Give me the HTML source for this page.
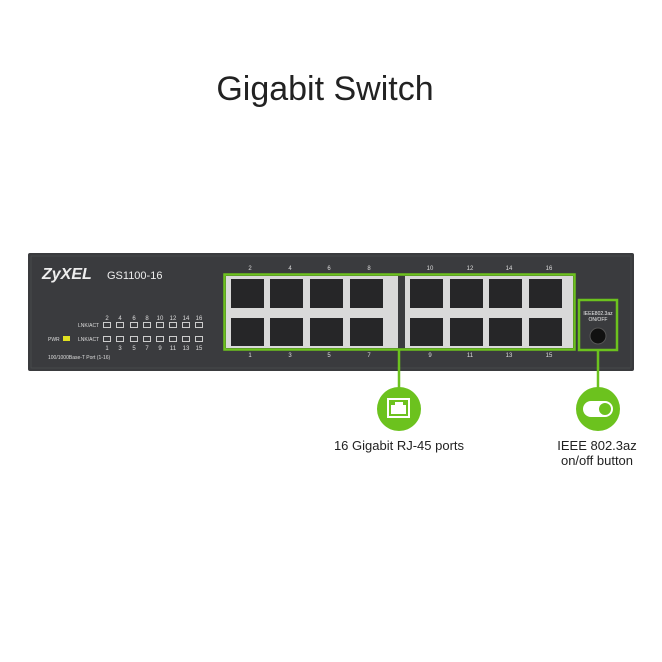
<!DOCTYPE html>
<html><head><meta charset="utf-8"><style>
html,body{margin:0;padding:0;background:#fff}
svg{display:block}
</style></head><body>
<svg width="662" height="662" viewBox="0 0 662 662" xmlns="http://www.w3.org/2000/svg" font-family="Liberation Sans, sans-serif">
<rect width="662" height="662" fill="#fff"/>
<text x="325" y="100" font-size="34" text-anchor="middle" fill="#222">Gigabit Switch</text>
<!-- body -->
<rect x="28" y="253" width="606" height="118" rx="2" fill="#3a3b3e"/>
<rect x="31" y="256" width="600" height="112" fill="none" stroke="#47484b" stroke-width="1"/>
<text x="42" y="279" font-size="16" font-weight="bold" font-style="italic" fill="#eee">ZyXEL</text>
<text x="107" y="279" font-size="11" fill="#eee">GS1100-16</text>
<g font-size="6" fill="#ddd" text-anchor="middle">
<text x="107" y="320">2</text><text x="120" y="320">4</text><text x="134" y="320">6</text><text x="147" y="320">8</text><text x="160" y="320">10</text><text x="173" y="320">12</text><text x="186" y="320">14</text><text x="199" y="320">16</text>
<text x="107" y="350">1</text><text x="120" y="350">3</text><text x="134" y="350">5</text><text x="147" y="350">7</text><text x="160" y="350">9</text><text x="173" y="350">11</text><text x="186" y="350">13</text><text x="199" y="350">15</text>
</g>
<g font-size="5" fill="#ddd">
<text x="78" y="327">LNK/ACT</text><text x="78" y="341">LNK/ACT</text><text x="48" y="341">PWR</text>
<text x="48" y="359">100/1000Base-T Port (1-16)</text>
</g>
<rect x="63" y="336" width="7" height="5" fill="#e0e020"/>
<g fill="none" stroke="#ccc" stroke-width="1">
<rect x="103.5" y="322.5" width="7" height="5"/><rect x="116.5" y="322.5" width="7" height="5"/><rect x="130.5" y="322.5" width="7" height="5"/><rect x="143.5" y="322.5" width="7" height="5"/><rect x="156.5" y="322.5" width="7" height="5"/><rect x="169.5" y="322.5" width="7" height="5"/><rect x="182.5" y="322.5" width="7" height="5"/><rect x="195.5" y="322.5" width="7" height="5"/>
<rect x="103.5" y="336.5" width="7" height="5"/><rect x="116.5" y="336.5" width="7" height="5"/><rect x="130.5" y="336.5" width="7" height="5"/><rect x="143.5" y="336.5" width="7" height="5"/><rect x="156.5" y="336.5" width="7" height="5"/><rect x="169.5" y="336.5" width="7" height="5"/><rect x="182.5" y="336.5" width="7" height="5"/><rect x="195.5" y="336.5" width="7" height="5"/>
</g>
<!-- port numbers -->
<g font-size="6" fill="#ddd" text-anchor="middle">
<text x="250" y="270">2</text><text x="290" y="270">4</text><text x="329" y="270">6</text><text x="369" y="270">8</text>
<text x="430" y="270">10</text><text x="470" y="270">12</text><text x="509" y="270">14</text><text x="549" y="270">16</text>
<text x="250" y="357">1</text><text x="290" y="357">3</text><text x="329" y="357">5</text><text x="369" y="357">7</text>
<text x="430" y="357">9</text><text x="470" y="357">11</text><text x="509" y="357">13</text><text x="549" y="357">15</text>
</g>
<!-- port blocks -->
<rect x="226" y="276" width="172" height="72" fill="#d9d9d9"/>
<rect x="405" y="276" width="168" height="72" fill="#d9d9d9"/>
<g fill="#262628">
<rect x="231" y="279" width="33" height="29"/><rect x="270" y="279" width="33" height="29"/><rect x="310" y="279" width="33" height="29"/><rect x="350" y="279" width="33" height="29"/>
<rect x="410" y="279" width="33" height="29"/><rect x="450" y="279" width="33" height="29"/><rect x="489" y="279" width="33" height="29"/><rect x="529" y="279" width="33" height="29"/>
<rect x="231" y="318" width="33" height="28"/><rect x="270" y="318" width="33" height="28"/><rect x="310" y="318" width="33" height="28"/><rect x="350" y="318" width="33" height="28"/>
<rect x="410" y="318" width="33" height="28"/><rect x="450" y="318" width="33" height="28"/><rect x="489" y="318" width="33" height="28"/><rect x="529" y="318" width="33" height="28"/>
</g>
<rect x="224.5" y="274.5" width="350" height="75" fill="none" stroke="#6cc21e" stroke-width="2.5"/>
<!-- button -->
<rect x="579" y="300" width="38" height="50" fill="none" stroke="#6cc21e" stroke-width="2.5"/>
<text x="598" y="315" font-size="5" fill="#eee" text-anchor="middle">IEEE802.3az</text>
<text x="598" y="321" font-size="5" fill="#eee" text-anchor="middle">ON/OFF</text>
<circle cx="598" cy="336" r="8" fill="#111" stroke="#555"/>
<!-- connectors -->
<line x1="399" y1="350" x2="399" y2="390" stroke="#6cc21e" stroke-width="2.5"/>
<line x1="598" y1="351" x2="598" y2="390" stroke="#6cc21e" stroke-width="2.5"/>
<circle cx="399" cy="409" r="22" fill="#6cc21e"/>
<rect x="388" y="399" width="21" height="18" fill="none" stroke="#fff" stroke-width="2"/>
<path d="M391 414 V405 H395 V402 H403 V405 H406 V414 Z" fill="#fff"/>
<circle cx="598" cy="409" r="22" fill="#6cc21e"/>
<rect x="583" y="401" width="30" height="16" rx="8" fill="#fff"/>
<circle cx="605" cy="409" r="6" fill="#6cc21e"/>
<text x="399" y="450" font-size="13" text-anchor="middle" fill="#222">16 Gigabit RJ-45 ports</text>
<text x="597" y="450" font-size="13" text-anchor="middle" fill="#222">IEEE 802.3az</text>
<text x="597" y="465" font-size="13" text-anchor="middle" fill="#222">on/off button</text>
</svg>
</body></html>
